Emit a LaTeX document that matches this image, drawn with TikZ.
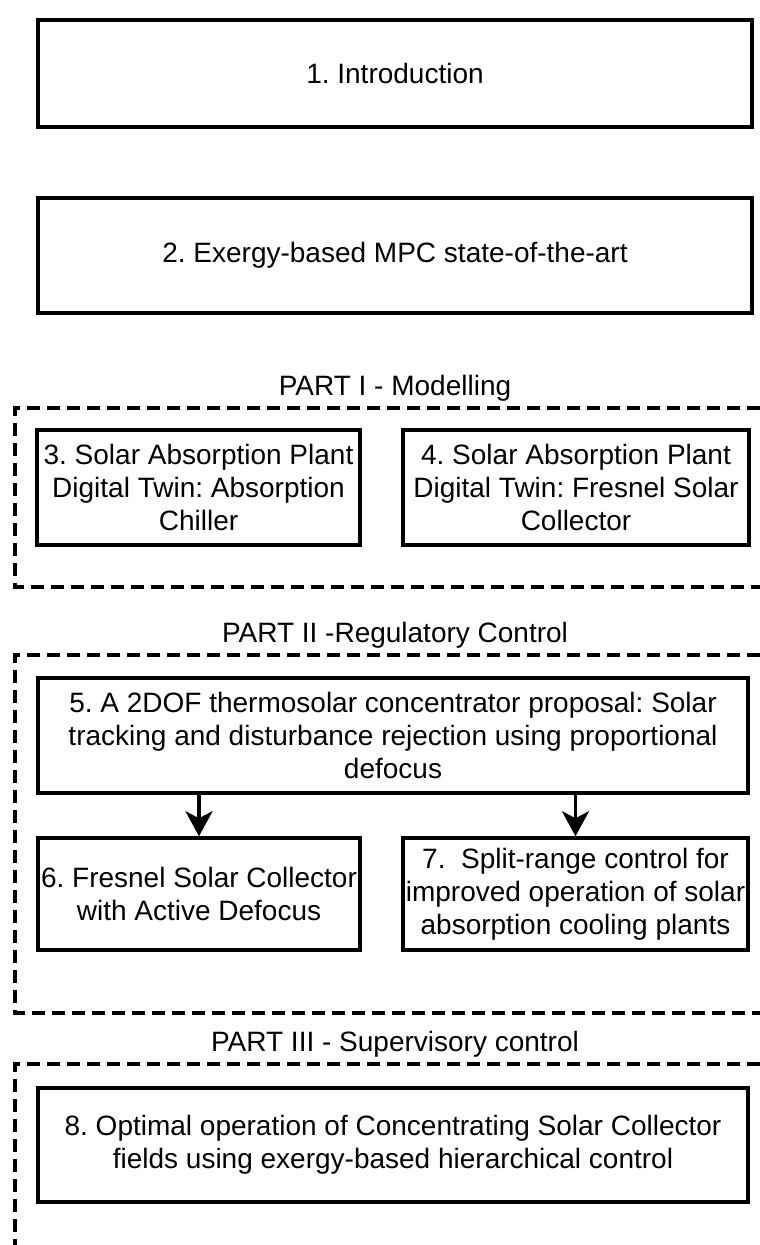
\documentclass[tikz,border=0pt]{standalone}
\usepackage{fontspec}
\setmainfont{Liberation Sans}
\frenchspacing
\usetikzlibrary{arrows.meta}

\tikzset{
  chapter/.style={draw, line width=3.5pt, align=center, inner sep=0pt,
    font=\fontsize{28}{33}\selectfont},
  parttitle/.style={anchor=base, font=\fontsize{28}{33}\selectfont},
  partframe/.style={line width=3.5pt, dash pattern=on 13pt off 7pt},
  flow/.style={line width=3.5pt, -{Stealth[length=25pt,width=27pt,inset=7pt]}},
}

\begin{document}
\begin{tikzpicture}[x=1pt,y=-1pt]
  \useasboundingbox (0,0) rectangle (760,1245);
  % chapters before the parts
  \node [chapter, minimum width=714pt, minimum height=107pt] (intro) at (395,73.5) {1. Introduction};
  \node [chapter, minimum width=714pt, minimum height=115pt] (soa) at (395,255.5) {2. Exergy-based MPC state-of-the-art};
  % part I
  \node [parttitle] (p1) at (395,395) {PART I - Modelling};
  \draw [partframe] (760,408) -- (15,408) -- (15,587) -- (760,587);
  \node [chapter, minimum width=323pt, minimum height=115pt] (twinchiller) at (198.5,487.5)
    {3. Solar Absorption Plant\\Digital Twin: Absorption\\Chiller};
  \node [chapter, minimum width=346pt, minimum height=115pt] (twinfresnel) at (576,487.5)
    {4. Solar Absorption Plant\\Digital Twin: Fresnel Solar\\Collector};
  % part II
  \node [parttitle] (p2) at (395,642) {PART II -Regulatory Control};
  \draw [partframe] (760,655) -- (15,655) -- (15,1013) -- (760,1013);
  \node [chapter, minimum width=710pt, minimum height=115pt] (tracking) at (393,735.5)
    {5. A 2DOF thermosolar concentrator proposal: Solar\\tracking and disturbance rejection using proportional\\defocus};
  \node [chapter, minimum width=322pt, minimum height=112pt] (defocus) at (199,894)
    {6. Fresnel Solar Collector\\with Active Defocus};
  \node [chapter, minimum width=345pt, minimum height=112pt] (splitrange) at (575.5,894)
    {7.\ \ Split-range control for\\improved operation of solar\\absorption cooling plants};
  \draw [flow] (defocus.north |- tracking.south) -- (defocus.north);
  \draw [flow] (splitrange.north |- tracking.south) -- (splitrange.north);
  % part III
  \node [parttitle] (p3) at (395,1051) {PART III - Supervisory control};
  \draw [partframe] (760,1064) -- (15,1064) -- (15,1245);
  \node [chapter, minimum width=710pt, minimum height=114pt] (hierarchy) at (393,1145)
    {8. Optimal operation of Concentrating Solar Collector\\fields using exergy-based hierarchical control};
\end{tikzpicture}
\end{document}
